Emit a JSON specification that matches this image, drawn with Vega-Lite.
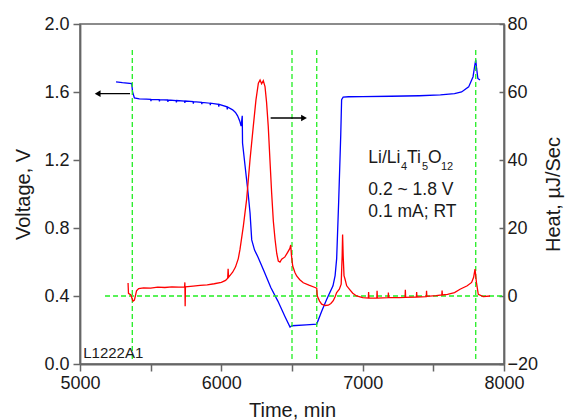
{
  "$schema": "https://vega.github.io/schema/vega-lite/v6.json",
  "width": 424,
  "height": 340,
  "autosize": "none",
  "padding": {"left": 80, "top": 24, "right": 62, "bottom": 56},
  "background": "white",
  "config": {
    "font": "Liberation Sans",
    "view": {"stroke": "#666666", "strokeWidth": 1.5},
    "axis": {
      "domainColor": "#666666",
      "domainWidth": 1.8,
      "tickColor": "#666666",
      "tickWidth": 1.5,
      "labelColor": "#1a1a1a",
      "titleColor": "#1a1a1a",
      "labelFont": "Liberation Sans",
      "titleFont": "Liberation Sans",
      "labelFontSize": 18,
      "titleFontSize": 20,
      "titleFontWeight": "normal",
      "grid": false
    }
  },
  "datasets": {
    "volt": [
      {"t": 5255, "v": 1.66}, {"t": 5300, "v": 1.655}, {"t": 5366, "v": 1.65}, {"t": 5372, "v": 1.6},
      {"t": 5385, "v": 1.565}, {"t": 5420, "v": 1.56}, {"t": 5470, "v": 1.558},
      {"t": 5500, "v": 1.557}, {"t": 5502, "v": 1.546}, {"t": 5504, "v": 1.557},
      {"t": 5560, "v": 1.555}, {"t": 5562, "v": 1.544}, {"t": 5564, "v": 1.555},
      {"t": 5620, "v": 1.553}, {"t": 5622, "v": 1.542}, {"t": 5624, "v": 1.553},
      {"t": 5680, "v": 1.55}, {"t": 5682, "v": 1.539}, {"t": 5684, "v": 1.55},
      {"t": 5740, "v": 1.547}, {"t": 5742, "v": 1.536}, {"t": 5744, "v": 1.547},
      {"t": 5800, "v": 1.543}, {"t": 5802, "v": 1.532}, {"t": 5804, "v": 1.543},
      {"t": 5860, "v": 1.539}, {"t": 5862, "v": 1.528}, {"t": 5864, "v": 1.539},
      {"t": 5920, "v": 1.534}, {"t": 5922, "v": 1.522}, {"t": 5924, "v": 1.534},
      {"t": 5980, "v": 1.527}, {"t": 5982, "v": 1.514}, {"t": 5984, "v": 1.527},
      {"t": 6040, "v": 1.513}, {"t": 6042, "v": 1.498}, {"t": 6044, "v": 1.512},
      {"t": 6080, "v": 1.495}, {"t": 6100, "v": 1.48}, {"t": 6115, "v": 1.46},
      {"t": 6130, "v": 1.43}, {"t": 6140, "v": 1.4}, {"t": 6148, "v": 1.46}, {"t": 6150, "v": 1.3},
      {"t": 6170, "v": 1.15}, {"t": 6190, "v": 1.0}, {"t": 6203, "v": 0.89}, {"t": 6215, "v": 0.73},
      {"t": 6235, "v": 0.67}, {"t": 6259, "v": 0.63}, {"t": 6300, "v": 0.55}, {"t": 6350, "v": 0.45},
      {"t": 6400, "v": 0.37}, {"t": 6450, "v": 0.28}, {"t": 6486, "v": 0.217}, {"t": 6500, "v": 0.225},
      {"t": 6600, "v": 0.23}, {"t": 6675, "v": 0.235}, {"t": 6710, "v": 0.31}, {"t": 6745, "v": 0.38},
      {"t": 6790, "v": 0.46}, {"t": 6805, "v": 0.52}, {"t": 6816, "v": 0.62}, {"t": 6830, "v": 0.95},
      {"t": 6845, "v": 1.35}, {"t": 6851, "v": 1.555}, {"t": 6862, "v": 1.57}, {"t": 6900, "v": 1.572},
      {"t": 7000, "v": 1.573}, {"t": 7200, "v": 1.575}, {"t": 7400, "v": 1.578}, {"t": 7550, "v": 1.583},
      {"t": 7650, "v": 1.59}, {"t": 7700, "v": 1.6}, {"t": 7750, "v": 1.63}, {"t": 7781, "v": 1.69},
      {"t": 7792, "v": 1.75}, {"t": 7800, "v": 1.79}, {"t": 7806, "v": 1.74}, {"t": 7815, "v": 1.68},
      {"t": 7830, "v": 1.67}
    ],
    "heat": [
      {"t": 5340, "h": 3.8}, {"t": 5343, "h": 0.8}, {"t": 5360, "h": 0.3}, {"t": 5375, "h": -1.5},
      {"t": 5385, "h": -1.2}, {"t": 5400, "h": 1.5}, {"t": 5415, "h": 2.2}, {"t": 5450, "h": 2.4},
      {"t": 5500, "h": 2.3}, {"t": 5550, "h": 2.6}, {"t": 5600, "h": 2.5}, {"t": 5650, "h": 2.7},
      {"t": 5700, "h": 2.6}, {"t": 5740, "h": 2.7}, {"t": 5742, "h": 4.0}, {"t": 5744, "h": -3.0},
      {"t": 5746, "h": 2.7}, {"t": 5800, "h": 2.9}, {"t": 5850, "h": 3.1}, {"t": 5900, "h": 3.3},
      {"t": 5950, "h": 3.6}, {"t": 6000, "h": 4.0}, {"t": 6030, "h": 4.6}, {"t": 6045, "h": 5.2},
      {"t": 6048, "h": 8.0}, {"t": 6051, "h": 5.5}, {"t": 6080, "h": 7.0}, {"t": 6100, "h": 8.5},
      {"t": 6120, "h": 11}, {"t": 6132, "h": 13.7}, {"t": 6156, "h": 20.6}, {"t": 6179, "h": 28.4},
      {"t": 6203, "h": 40.1}, {"t": 6226, "h": 49.9}, {"t": 6245, "h": 57.7}, {"t": 6262, "h": 62.6},
      {"t": 6274, "h": 63.5}, {"t": 6285, "h": 62.4}, {"t": 6297, "h": 63.3}, {"t": 6309, "h": 61.6},
      {"t": 6320, "h": 57}, {"t": 6332, "h": 49.9}, {"t": 6344, "h": 40}, {"t": 6356, "h": 30.3},
      {"t": 6368, "h": 22}, {"t": 6380, "h": 16.7}, {"t": 6392, "h": 12.5}, {"t": 6403, "h": 10.3},
      {"t": 6415, "h": 10.0}, {"t": 6427, "h": 10.8}, {"t": 6450, "h": 11.5}, {"t": 6467, "h": 12.7},
      {"t": 6485, "h": 14.0}, {"t": 6491, "h": 15.0}, {"t": 6496, "h": 12}, {"t": 6505, "h": 8.8},
      {"t": 6520, "h": 7.0}, {"t": 6533, "h": 5.9}, {"t": 6555, "h": 4.8}, {"t": 6580, "h": 3.9},
      {"t": 6620, "h": 3.2}, {"t": 6663, "h": 2.5}, {"t": 6675, "h": 2.3}, {"t": 6679, "h": 0.0},
      {"t": 6695, "h": -1.5}, {"t": 6710, "h": -2.4}, {"t": 6735, "h": -2.8}, {"t": 6757, "h": -2.7},
      {"t": 6775, "h": -2.2}, {"t": 6792, "h": -1.4}, {"t": 6805, "h": -0.2}, {"t": 6816, "h": 1.0},
      {"t": 6835, "h": 2.0}, {"t": 6848, "h": 3.5}, {"t": 6855, "h": 12}, {"t": 6858, "h": 18.1},
      {"t": 6862, "h": 12}, {"t": 6868, "h": 6}, {"t": 6875, "h": 5.0}, {"t": 6887, "h": 3.0},
      {"t": 6910, "h": 1.8}, {"t": 6930, "h": 0.8}, {"t": 6957, "h": 0}, {"t": 7000, "h": -0.5},
      {"t": 7040, "h": -0.6}, {"t": 7042, "h": 1.2}, {"t": 7044, "h": -0.6}, {"t": 7100, "h": -0.6},
      {"t": 7102, "h": 1.5}, {"t": 7104, "h": -0.6}, {"t": 7180, "h": -0.5}, {"t": 7182, "h": 1.0},
      {"t": 7184, "h": -0.5}, {"t": 7260, "h": -0.5}, {"t": 7300, "h": -0.4}, {"t": 7302, "h": 1.8},
      {"t": 7304, "h": -0.4}, {"t": 7380, "h": -0.3}, {"t": 7382, "h": 1.2}, {"t": 7384, "h": -0.3},
      {"t": 7450, "h": -0.2}, {"t": 7452, "h": 1.5}, {"t": 7454, "h": -0.1}, {"t": 7520, "h": 0.1},
      {"t": 7560, "h": 0.3}, {"t": 7562, "h": 1.6}, {"t": 7564, "h": 0.3}, {"t": 7600, "h": 0.5},
      {"t": 7650, "h": 1.0}, {"t": 7689, "h": 2.0}, {"t": 7740, "h": 3.0}, {"t": 7771, "h": 4.0},
      {"t": 7785, "h": 5.5}, {"t": 7795, "h": 7.9}, {"t": 7805, "h": 4.0}, {"t": 7818, "h": 0.5},
      {"t": 7853, "h": -0.2}, {"t": 7901, "h": 0.0}
    ],
    "vlines": [
      {"t": 5370, "v1": 0.03, "v2": 1.86},
      {"t": 6500, "v1": 0.03, "v2": 1.86},
      {"t": 6675, "v1": 0.03, "v2": 1.86},
      {"t": 7800, "v1": 0.03, "v2": 1.86}
    ],
    "hline": [{"t1": 5177, "t2": 8000, "h": 0}],
    "arrows": [
      {"t1": 5354, "t2": 5125, "v": 1.59, "dir": "left"},
      {"t1": 6349, "t2": 6585, "v": 1.447, "dir": "right"}
    ],
    "notes": [
      {"t": 7040, "v": 1.183, "label": "Li/Li"},
      {"t": 7314, "v": 1.183, "label": "Ti"},
      {"t": 7462, "v": 1.183, "label": "O"},
      {"t": 7040, "v": 0.997, "label": "0.2 ~ 1.8 V"},
      {"t": 7040, "v": 0.866, "label": "0.1 mA; RT"}
    ],
    "subs": [
      {"t": 7271, "v": 1.144, "label": "4"},
      {"t": 7420, "v": 1.144, "label": "5"},
      {"t": 7554, "v": 1.144, "label": "12"}
    ],
    "tag": [{"t": 5023, "v": 0.035, "label": "L1222A1"}]
  },
  "layer": [
    {
      "layer": [
        {
          "data": {"name": "volt"},
          "mark": {"type": "line", "color": "#0000ff", "strokeWidth": 1.3, "interpolate": "linear"},
          "encoding": {
            "x": {
              "field": "t", "type": "quantitative",
              "scale": {"domain": [5000, 8000], "nice": false, "zero": false},
              "axis": {
                "title": "Time, min",
                "values": [5000, 5500, 6000, 6500, 7000, 7500, 8000],
                "labelExpr": "datum.value % 1000 === 0 ? format(datum.value, 'd') : ''",
                "tickSize": 7,
                "labelPadding": 3,
                "titlePadding": 8,
                "labelFlush": false,
                "labelOverlap": false
              }
            },
            "y": {
              "field": "v", "type": "quantitative",
              "scale": {"domain": [0, 2], "nice": false, "zero": false},
              "axis": {
                "orient": "left",
                "title": "Voltage, V",
                "values": [0, 0.2, 0.4, 0.6, 0.8, 1.0, 1.2, 1.4, 1.6, 1.8, 2.0],
                "labelExpr": "round(datum.value * 10) % 4 === 0 ? format(datum.value, '.1f') : ''",
                "tickSize": 7,
                "labelPadding": 4,
                "titlePadding": 10,
                "labelFlush": false,
                "labelOverlap": false
              }
            }
          }
        },
        {
          "data": {"name": "vlines"},
          "mark": {"type": "rule", "color": "#22ee22", "strokeWidth": 1.3, "strokeDash": [5, 3]},
          "encoding": {
            "x": {"field": "t", "type": "quantitative"},
            "y": {"field": "v1", "type": "quantitative"},
            "y2": {"field": "v2"}
          }
        },
        {
          "data": {"name": "arrows"},
          "mark": {"type": "rule", "color": "#000000", "strokeWidth": 1.3},
          "encoding": {
            "x": {"field": "t1", "type": "quantitative"},
            "x2": {"field": "t2"},
            "y": {"field": "v", "type": "quantitative"}
          }
        },
        {
          "data": {"name": "arrows"},
          "mark": {"type": "point", "filled": true, "color": "#000000", "size": 45, "opacity": 1},
          "encoding": {
            "x": {"field": "t2", "type": "quantitative"},
            "y": {"field": "v", "type": "quantitative"},
            "shape": {
              "field": "dir", "type": "nominal", "legend": null,
              "scale": {"domain": ["left", "right"], "range": ["triangle-left", "triangle-right"]}
            }
          }
        },
        {
          "data": {"name": "notes"},
          "mark": {"type": "text", "align": "left", "baseline": "alphabetic", "fontSize": 17.5, "color": "#1a1a1a"},
          "encoding": {
            "x": {"field": "t", "type": "quantitative"},
            "y": {"field": "v", "type": "quantitative"},
            "text": {"field": "label"}
          }
        },
        {
          "data": {"name": "subs"},
          "mark": {"type": "text", "align": "left", "baseline": "alphabetic", "fontSize": 11, "color": "#1a1a1a"},
          "encoding": {
            "x": {"field": "t", "type": "quantitative"},
            "y": {"field": "v", "type": "quantitative"},
            "text": {"field": "label"}
          }
        },
        {
          "data": {"name": "tag"},
          "mark": {"type": "text", "align": "left", "baseline": "alphabetic", "fontSize": 15, "color": "#1a1a1a"},
          "encoding": {
            "x": {"field": "t", "type": "quantitative"},
            "y": {"field": "v", "type": "quantitative"},
            "text": {"field": "label"}
          }
        }
      ]
    },
    {
      "layer": [
        {
          "data": {"name": "hline"},
          "mark": {"type": "rule", "color": "#22ee22", "strokeWidth": 1.3, "strokeDash": [5, 3]},
          "encoding": {
            "x": {"field": "t1", "type": "quantitative"},
            "x2": {"field": "t2"},
            "y": {
              "field": "h", "type": "quantitative",
              "scale": {"domain": [-20, 80], "nice": false, "zero": false},
              "axis": {
                "orient": "right",
                "title": "Heat, µJ/Sec",
                "titleAngle": -90,
                "values": [-20, -10, 0, 10, 20, 30, 40, 50, 60, 70, 80],
                "labelExpr": "datum.value % 20 === 0 ? format(datum.value, 'd') : ''",
                "tickSize": -5,
                "labelPadding": 8,
                "titlePadding": 26,
                "labelFlush": false,
                "labelOverlap": false
              }
            }
          }
        },
        {
          "data": {"name": "heat"},
          "mark": {"type": "line", "color": "#ff0000", "strokeWidth": 1.3},
          "encoding": {
            "x": {"field": "t", "type": "quantitative"},
            "y": {"field": "h", "type": "quantitative"}
          }
        }
      ]
    }
  ],
  "resolve": {"scale": {"y": "independent"}, "axis": {"y": "independent"}}
}
